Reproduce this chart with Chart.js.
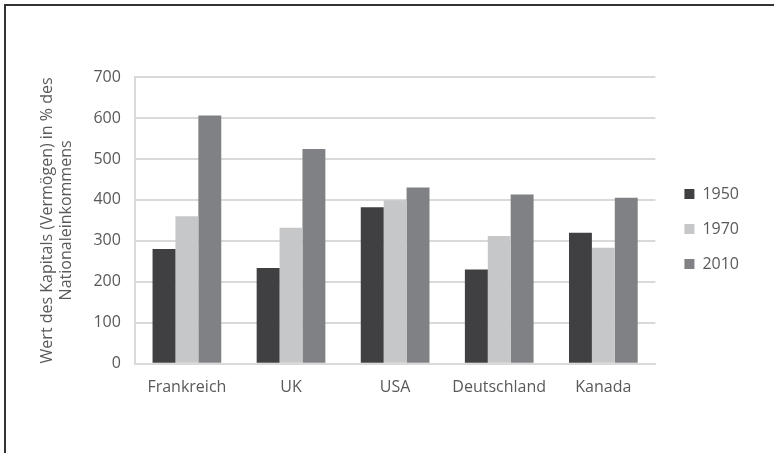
<!DOCTYPE html>
<html>
<head>
<meta charset="utf-8">
<script src="https://cdn.jsdelivr.net/npm/chart.js@4"></script>
<style>
  html, body { margin: 0; padding: 0; background: #fff; }
  #wrap { position: relative; width: 774px; height: 453px; overflow: hidden; }
  #frame { position: absolute; left: 4px; top: 4px; width: 800px; height: 480px;
           border-top: 2px solid #333; border-left: 2px solid #333; box-sizing: border-box; }
  canvas { position: absolute; left: 0; top: 0; }
</style>
</head>
<body>
<div id="wrap">
  <div id="frame"></div>
  <canvas id="chart" width="774" height="453"></canvas>
</div>
<script>
const laender = ['Frankreich', 'UK', 'USA', 'Deutschland', 'Kanada'];
const werte1950 = [280, 234, 382, 230, 320];
const werte1970 = [360, 332, 399, 312, 283];
const werte2010 = [606, 524, 430, 413, 405];
const yTicks = [0, 100, 200, 300, 400, 500, 600, 700];

const textFarbe = '#595959';
const gitter = '#d9d9d9';
Chart.defaults.font.family = '"Open Sans", sans-serif';
Chart.defaults.font.size = 16;
Chart.defaults.color = textFarbe;

// Legende etwas nach rechts oben schieben (wie im Original)
const legendeVersatz = {
  id: 'legendeVersatz',
  afterLayout(chart) {
    const lg = chart.legend;
    if (!lg) return;
    lg.left += 10; lg.right += 10;
    lg.top -= 11; lg.bottom -= 11;
  }
};

const ctx = document.getElementById('chart');
new Chart(ctx, {
  type: 'bar',
  data: {
    labels: laender,
    datasets: [
      { label: '1950', backgroundColor: '#404042', data: werte1950 },
      { label: '1970', backgroundColor: '#c6c7c9', data: werte1970 },
      { label: '2010', backgroundColor: '#808185', data: werte2010 }
    ]
  },
  options: {
    responsive: false,
    animation: false,
    categoryPercentage: 0.66,
    barPercentage: 1,
    layout: { padding: { left: 38, right: 35, top: 77, bottom: 50 } },
    plugins: {
      legend: {
        position: 'right',
        labels: { boxWidth: 10, boxHeight: 10, padding: 19, color: textFarbe }
      },
      tooltip: { enabled: false }
    },
    scales: {
      x: {
        grid: { display: false },
        border: { display: true, color: gitter, width: 2 },
        ticks: { padding: 6 }
      },
      y: {
        min: 0,
        max: 700,
        afterBuildTicks: (axis) => { axis.ticks = yTicks.map(v => ({ value: v })); },
        grid: { color: gitter, lineWidth: 2, drawTicks: false },
        border: { display: true, color: gitter, width: 2 },
        ticks: { padding: 14 },
        title: {
          display: true,
          text: ['Wert des Kapitals (Vermögen) in % des', 'Nationaleinkommens'],
          padding: { top: 0, bottom: 3 }
        }
      }
    }
  },
  plugins: [legendeVersatz]
});
</script>
</body>
</html>
